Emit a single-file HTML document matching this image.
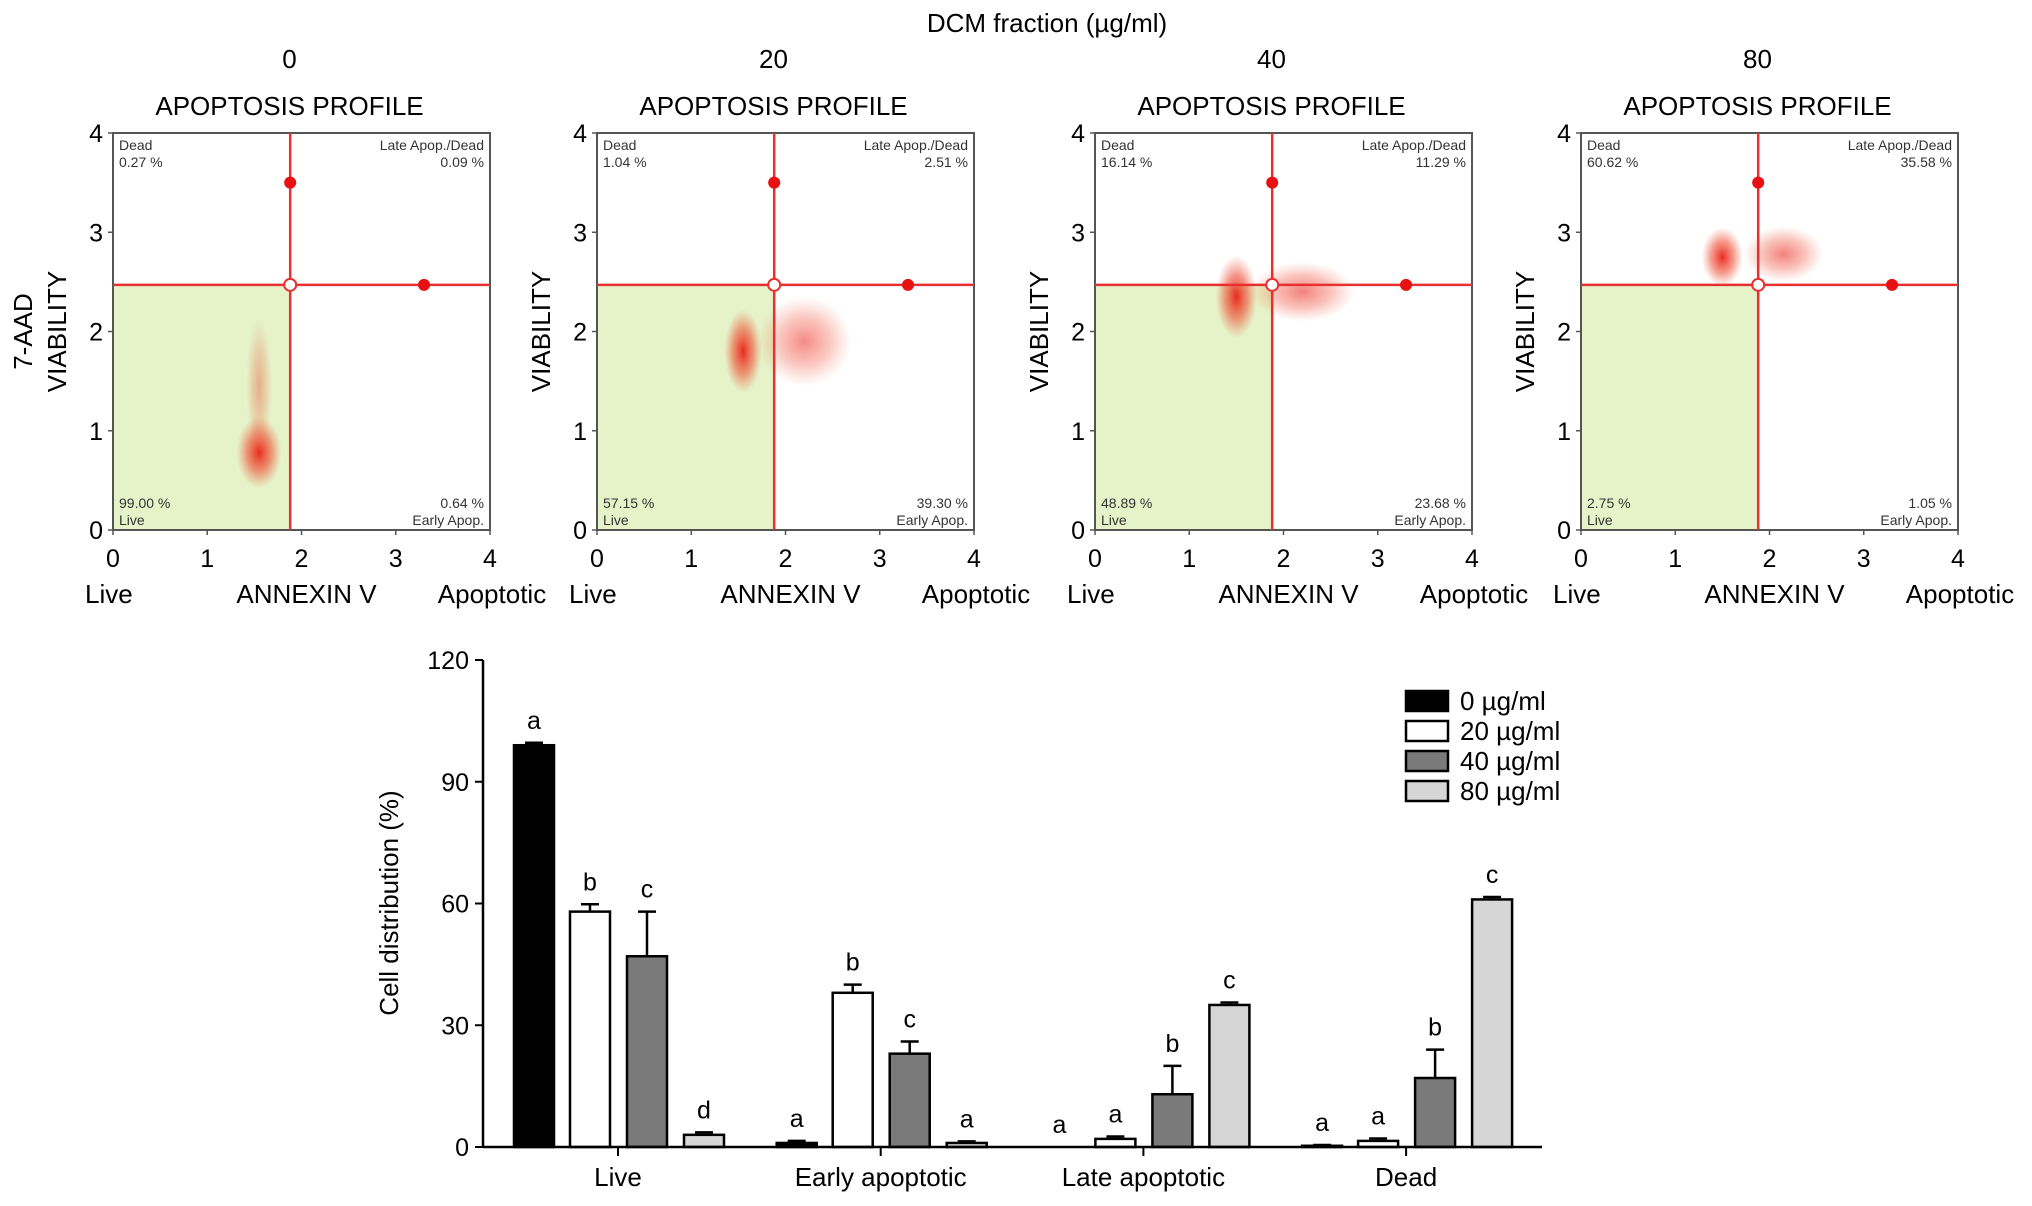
<!DOCTYPE html>
<html><head><meta charset="utf-8"><style>
body{margin:0;background:#fff}
svg{display:block;font-family:"Liberation Sans",sans-serif}
</style></head><body>
<svg id="fig" width="2032" height="1206" viewBox="0 0 2032 1206" xmlns="http://www.w3.org/2000/svg">
<defs>
<radialGradient id="cl"><stop offset="0" stop-color="#e8140a" stop-opacity="0.9"/><stop offset="0.55" stop-color="#ee3a20" stop-opacity="0.5"/><stop offset="1" stop-color="#f06040" stop-opacity="0"/></radialGradient>
</defs>
<text x="1047" y="32" font-size="26" text-anchor="middle">DCM fraction (µg/ml)</text>
<g id="scatters"></g>
<g id="bars"></g>
</svg>
<script>
const NS="http://www.w3.org/2000/svg";
const doses=["0","20","40","80"];
const plotLeft=[113,597,1095,1581];
const deadPct=["0.27 %","1.04 %","16.14 %","60.62 %"];
const latePct=["0.09 %","2.51 %","11.29 %","35.58 %"];
const livePct=["99.00 %","57.15 %","48.89 %","2.75 %"];
const earlyPct=["0.64 %","39.30 %","23.68 %","1.05 %"];
const gateX=1.88, gateY=2.47;
// clusters per plot: [cx, cy, rx, ry, opacity]
const clusters0=[[1.55,0.78,0.24,0.36,1],[1.55,1.45,0.14,0.7,0.35]];
const clusters20=[[1.55,1.8,0.2,0.42,1],[2.2,1.9,0.5,0.45,0.55]];
const clusters40=[[1.5,2.35,0.22,0.42,1],[2.2,2.4,0.55,0.3,0.6]];
const clusters80=[[1.5,2.75,0.22,0.3,1],[2.15,2.78,0.42,0.28,0.6]];
const clusterSets=[clusters0,clusters20,clusters40,clusters80];
const axTicks=[0,1,2,3,4];

// bar chart data
const categories=["Live","Early apoptotic","Late apoptotic","Dead"];
const series0=[99,1,0,0.3];
const series20=[58,38,2,1.5];
const series40=[47,23,13,17];
const series80=[3,1,35,61];
const err0=[0.6,0.5,0,0.2];
const err20=[1.8,2,0.6,0.6];
const err40=[11,3,7,7];
const err80=[0.6,0.4,0.6,0.6];
const letters0=["a","a","a","a"];
const letters20=["b","b","a","a"];
const letters40=["c","c","b","b"];
const letters80=["d","a","c","c"];
const yTicks=[0,30,60,90,120];
const seriesNames=["0 µg/ml","20 µg/ml","40 µg/ml","80 µg/ml"];
const fills=["#000","#fff","#7a7a7a","#d6d6d6"];

function mk(tag,attrs,parent,text){const e=document.createElementNS(NS,tag);for(const k in attrs)e.setAttribute(k,attrs[k]);if(text!==undefined)e.textContent=text;parent.appendChild(e);return e;}

const sg=document.getElementById('scatters');
const W=377,H=397,Y0=133;
for(let p=0;p<4;p++){
  const x0=plotLeft[p];
  const sx=v=>x0+v/4*W, sy=v=>Y0+H-v/4*H;
  const g=mk('g',{},sg);
  
  
  const t1=mk('text',{x:x0+W/2-12,y:68,'font-size':26,'text-anchor':'middle'},g,doses[p]);
  
  
  const t2=mk('text',{x:x0+W/2-12,y:115,'font-size':26,'text-anchor':'middle'},g,'APOPTOSIS PROFILE');
  
  
  const q=mk('rect',{x:sx(0),y:sy(gateY),width:sx(gateX)-sx(0),height:sy(0)-sy(gateY),fill:'#e6f3c9'},g);
  
  
  clusterSets[p].forEach(c=>{
    const e=mk('ellipse',{cx:sx(c[0]),cy:sy(c[1]),rx:c[2]/4*W,ry:c[3]/4*H,fill:'url(#cl)',opacity:c[4]},g);
    
    
  });
  const fr=mk('rect',{x:x0,y:Y0,width:W,height:H,fill:'none',stroke:'#555','stroke-width':2},g);
  
  
  mk('line',{x1:sx(gateX),x2:sx(gateX),y1:Y0,y2:Y0+H,stroke:'#e83030','stroke-width':2.5},g);
  mk('line',{x1:x0,x2:x0+W,y1:sy(gateY),y2:sy(gateY),stroke:'#e83030','stroke-width':2.5},g);
  const d1=mk('circle',{cx:sx(gateX),cy:sy(3.5),r:6,fill:'#e81010'},g);
  
  
  const d2=mk('circle',{cx:sx(3.3),cy:sy(gateY),r:6,fill:'#e81010'},g);
  
  
  const d3=mk('circle',{cx:sx(gateX),cy:sy(gateY),r:6,fill:'#fff',stroke:'#e83030','stroke-width':2},g);
  
  
  const fs=14;
  mk('text',{x:x0+6,y:Y0+17,'font-size':fs,fill:'#333'},g,'Dead');
  mk('text',{x:x0+6,y:Y0+34,'font-size':fs,fill:'#333'},g,deadPct[p]);
  mk('text',{x:x0+W-6,y:Y0+17,'font-size':fs,fill:'#333','text-anchor':'end'},g,'Late Apop./Dead');
  mk('text',{x:x0+W-6,y:Y0+34,'font-size':fs,fill:'#333','text-anchor':'end'},g,latePct[p]);
  mk('text',{x:x0+6,y:Y0+H-22,'font-size':fs,fill:'#333'},g,livePct[p]);
  mk('text',{x:x0+6,y:Y0+H-5,'font-size':fs,fill:'#333'},g,'Live');
  mk('text',{x:x0+W-6,y:Y0+H-22,'font-size':fs,fill:'#333','text-anchor':'end'},g,earlyPct[p]);
  mk('text',{x:x0+W-6,y:Y0+H-5,'font-size':fs,fill:'#333','text-anchor':'end'},g,'Early Apop.');
  axTicks.forEach(v=>{
    mk('text',{x:sx(v),y:567,'font-size':25,'text-anchor':'middle'},g,String(v));
    mk('text',{x:x0-10,y:sy(v)+9,'font-size':25,'text-anchor':'end'},g,String(v));
    mk('line',{x1:sx(v),x2:sx(v),y1:Y0+H,y2:Y0+H+5,stroke:'#555','stroke-width':1.5},g);
    mk('line',{x1:x0-5,x2:x0,y1:sy(v),y2:sy(v),stroke:'#555','stroke-width':1.5},g);
  });
  mk('text',{x:x0-28,y:603,'font-size':26},g,'Live');
  const ax=mk('text',{x:x0+W/2+5,y:603,'font-size':26,'text-anchor':'middle'},g,'ANNEXIN V');
  
  
  mk('text',{x:x0+W+2,y:603,'font-size':26,'text-anchor':'middle'},g,'Apoptotic');
  const yl=mk('text',{x:0,y:0,'font-size':26,'text-anchor':'middle',transform:`translate(${x0-47},${Y0+H/2}) rotate(-90)`},g,'VIABILITY');
  
  
  if(p===0){mk('text',{x:0,y:0,'font-size':26,'text-anchor':'middle',transform:`translate(${x0-81},${Y0+H/2}) rotate(-90)`},g,'7-AAD');}
}

// bar chart
const bg=document.getElementById('bars');
const BX0=483,BX1=1542,BY0=1147,BY1=660;
const by=v=>BY0-v/120*(BY0-BY1);
const groupCenter=i=>618+i*262.7;
const offsets=[-84,-28,29,86];
const bw=40;
const allS=[series0,series20,series40,series80],allE=[err0,err20,err40,err80],allL=[letters0,letters20,letters40,letters80];
yTicks.forEach(v=>{
  mk('line',{x1:BX0-8,x2:BX0,y1:by(v),y2:by(v),stroke:'#000','stroke-width':2},bg);
  const t=mk('text',{x:BX0-14,y:by(v)+9,'font-size':25,'text-anchor':'end'},bg,String(v));
  
  
});
const ylab=mk('text',{x:0,y:0,'font-size':26,'text-anchor':'middle',transform:'translate(398,903) rotate(-90)'},bg,'Cell distribution (%)');


categories.forEach((c,i)=>{
  const gx=groupCenter(i);
  mk('line',{x1:gx,x2:gx,y1:BY0,y2:BY0+9,stroke:'#000','stroke-width':2},bg);
  const t=mk('text',{x:gx,y:1186,'font-size':26,'text-anchor':'middle'},bg,c);
  
  
  for(let s=0;s<4;s++){
    const v=allS[s][i],e=allE[s][i],cx=gx+offsets[s];
    if(e>0){
      mk('line',{x1:cx,x2:cx,y1:by(v),y2:by(v+e),stroke:'#000','stroke-width':2.5},bg);
      mk('line',{x1:cx-9,x2:cx+9,y1:by(v+e),y2:by(v+e),stroke:'#000','stroke-width':2.5},bg);
    }
    const r=mk('rect',{x:cx-bw/2,y:by(v),width:bw,height:BY0-by(v),fill:fills[s],stroke:'#000','stroke-width':2.5},bg);
    
    
    const l=mk('text',{x:cx,y:by(v+e)-14,'font-size':25,'text-anchor':'middle'},bg,allL[s][i]);
    
    
  }
});
mk('line',{x1:BX0,x2:BX0,y1:BY1,y2:BY0,stroke:'#000','stroke-width':2.5},bg);
mk('line',{x1:BX0,x2:BX1,y1:BY0,y2:BY0,stroke:'#000','stroke-width':2.5},bg);
seriesNames.forEach((n,s)=>{
  const y=701+s*30;
  const r=mk('rect',{x:1406,y:y-10,width:42,height:20,fill:fills[s],stroke:'#000','stroke-width':2.5},bg);
  
  
  const t=mk('text',{x:1460,y:y+9,'font-size':26},bg,n);
  
  
});
</script>
</body></html>
